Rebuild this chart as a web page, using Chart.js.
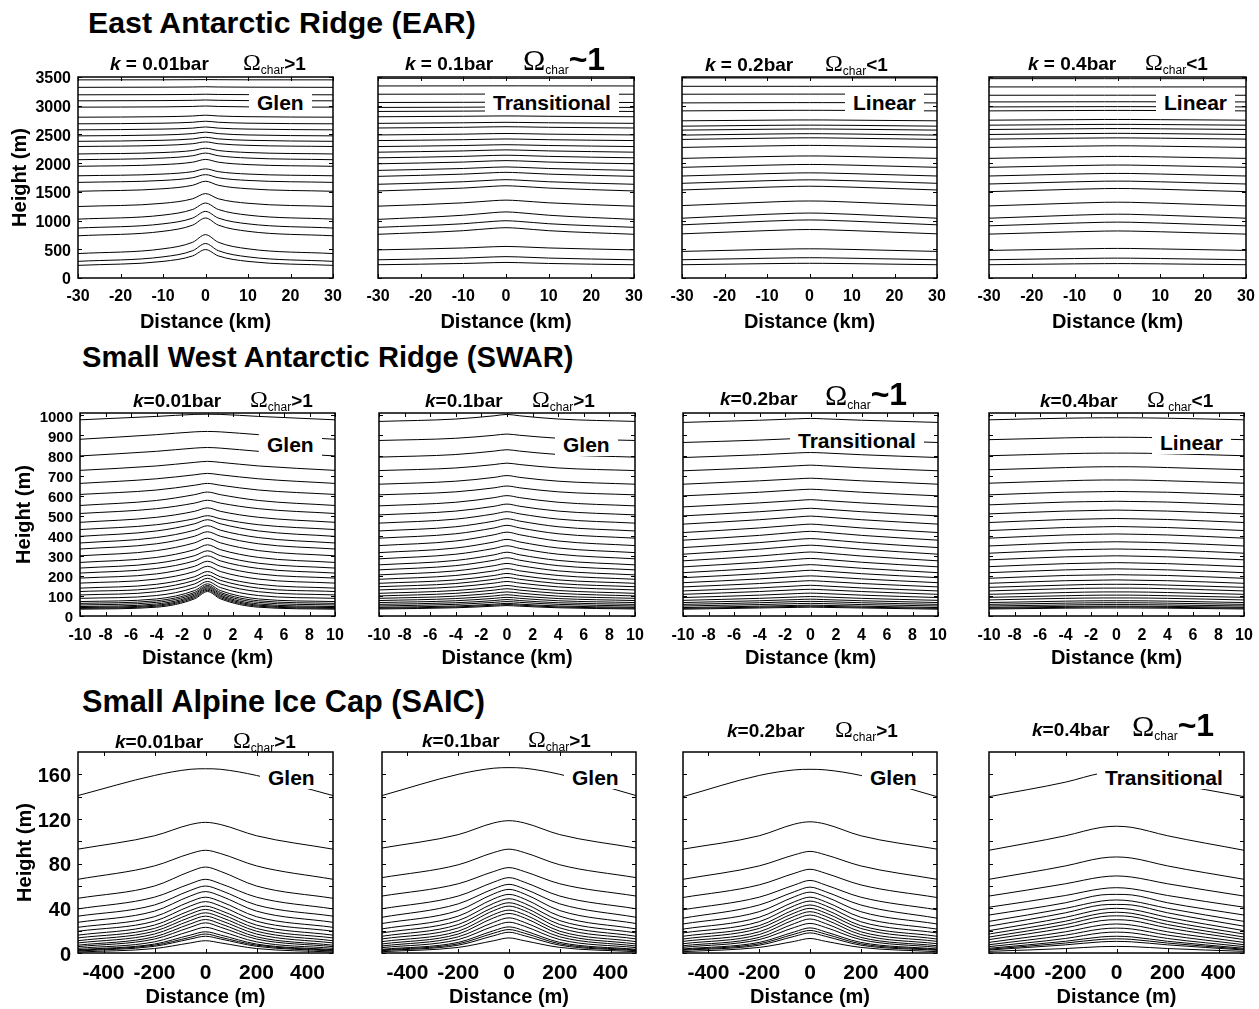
<!DOCTYPE html>
<html>
<head>
<meta charset="utf-8">
<script src="https://cdn.jsdelivr.net/npm/chart.js@4.4.1/dist/chart.umd.min.js"></script>
<style>
  body { margin: 0; background: #fff; width: 1259px; height: 1009px; position: relative; overflow: hidden;
         font-family: "Liberation Sans", Arial, sans-serif; color: #000; }
  .head { position: absolute; font-weight: bold; line-height: 1; white-space: nowrap; }
  .pt { position: absolute; white-space: nowrap; line-height: 1; font-weight: bold; font-size: 19px; z-index: 2; }
  .pt .kp { display: inline-block; }
  .pt .om { font-family: "Liberation Serif", "DejaVu Serif", serif; font-weight: normal; font-size: 24px; }
  .pt .om.big { font-size: 30px; }
  .pt sub { font-size: 12px; font-weight: normal; vertical-align: -4px; line-height: 0; }
  .pt .rel.big { font-size: 32px; }
  .lab { position: absolute; background: #fff; font-weight: bold; font-size: 21px; line-height: 1;
         padding: 1px 8px; white-space: nowrap; z-index: 2; }
  canvas { position: absolute; }
</style>
</head>
<body>
<div class="head" style="left:88px;top:8px;font-size:30.3px">East Antarctic Ridge (EAR)</div>
<div class="head" style="left:82px;top:343px;font-size:29.1px">Small West Antarctic Ridge (SWAR)</div>
<div class="head" style="left:82px;top:687px;font-size:30.7px">Small Alpine Ice Cap (SAIC)</div>
<script>
// sample positions along each profile (edge, shoulder, near, crest, mirrored)
const earX = [-30, -10, -3, 0, 3, 10, 30];
const swarX = [-10, -4, -1, 0, 1, 4, 10];
const saicX = [-500, -200, -60, 0, 60, 200, 500];

const earXTicks = [-30, -20, -10, 0, 10, 20, 30];
const earYTicks = [0, 500, 1000, 1500, 2000, 2500, 3000, 3500];
const swarXTicks = [-10, -8, -6, -4, -2, 0, 2, 4, 6, 8, 10];
const swarYTicks = [0, 100, 200, 300, 400, 500, 600, 700, 800, 900, 1000];
const saicXTicks = [-400, -200, 0, 200, 400];
const saicYTicks = [0, 20, 40, 60, 80, 100, 120, 140, 160];

// each isochrone: [height at edge, at shoulder, near crest, at crest]
const earGlen = [
  [3450, 3451, 3453, 3455], [3320, 3323, 3326, 3330], [3190, 3193, 3196, 3200], [3085, 3089, 3094, 3100],
  [2975, 2980, 2987, 2995], [2800, 2809, 2821, 2835], [2685, 2696, 2712, 2730], [2580, 2593, 2610, 2630],
  [2475, 2491, 2514, 2540], [2380, 2398, 2422, 2450], [2290, 2310, 2338, 2370], [2160, 2185, 2220, 2260],
  [2060, 2089, 2129, 2175], [1945, 1975, 2017, 2065], [1780, 1810, 1852, 1900], [1665, 1699, 1746, 1800],
  [1510, 1554, 1615, 1685], [1245, 1301, 1380, 1470], [1025, 1095, 1194, 1305], [870, 943, 1044, 1160],
  [735, 813, 921, 1045], [425, 508, 623, 755], [290, 368, 476, 600], [220, 289, 385, 495]
];
const earTrans = [
  [3477, 3477, 3477, 3477], [3344, 3345, 3346, 3346], [3200, 3202, 3203, 3203], [3056, 3059, 3061, 3061],
  [2970, 2974, 2977, 2978], [2900, 2906, 2909, 2910], [2808, 2816, 2821, 2822], [2693, 2703, 2709, 2711],
  [2612, 2624, 2632, 2634], [2491, 2505, 2514, 2516], [2393, 2408, 2418, 2421], [2289, 2307, 2318, 2321],
  [2191, 2213, 2227, 2231], [2093, 2118, 2134, 2138], [1989, 2019, 2039, 2044], [1874, 1907, 1928, 1934],
  [1770, 1809, 1833, 1840], [1632, 1676, 1704, 1712], [1516, 1566, 1597, 1606], [1251, 1309, 1346, 1356],
  [1021, 1093, 1138, 1151], [882, 945, 986, 997], [761, 824, 865, 876], [490, 523, 544, 550],
  [317, 347, 367, 372], [231, 253, 267, 271]
];
const earLin2 = [
  [3483, 3483, 3483, 3483], [3338, 3338, 3338, 3338], [3200, 3202, 3202, 3202], [3049, 3053, 3054, 3054],
  [2910, 2918, 2920, 2920], [2737, 2748, 2752, 2752], [2644, 2658, 2661, 2662], [2575, 2590, 2594, 2595],
  [2488, 2507, 2512, 2513], [2413, 2434, 2440, 2441], [2274, 2300, 2308, 2309], [2083, 2115, 2124, 2125],
  [1927, 1965, 1976, 1977], [1776, 1817, 1829, 1831], [1649, 1694, 1707, 1709], [1533, 1582, 1596, 1598],
  [1261, 1321, 1339, 1341], [1041, 1109, 1128, 1131], [926, 990, 1008, 1011], [769, 825, 842, 844],
  [463, 497, 507, 508], [318, 344, 352, 353], [231, 250, 255, 256]
];
const earLin4 = [
  [3471, 3471, 3471, 3471], [3327, 3327, 3327, 3327], [3182, 3183, 3183, 3183], [3066, 3068, 3069, 3069],
  [2979, 2983, 2984, 2984], [2910, 2916, 2918, 2918], [2748, 2757, 2760, 2760], [2661, 2672, 2675, 2675],
  [2586, 2598, 2602, 2602], [2499, 2514, 2518, 2519], [2418, 2435, 2439, 2440], [2274, 2295, 2301, 2302],
  [2083, 2109, 2116, 2117], [1927, 1957, 1966, 1967], [1776, 1810, 1820, 1821], [1637, 1675, 1686, 1687],
  [1504, 1545, 1557, 1559], [1255, 1304, 1318, 1320], [1041, 1094, 1109, 1111], [908, 957, 971, 973],
  [764, 805, 817, 819], [480, 506, 514, 515], [318, 339, 345, 346], [231, 246, 250, 251]
];

const swarGlen1 = [
  [978, 995, 1005, 1006], [881, 904, 918, 920], [798, 821, 837, 840], [726, 748, 766, 771],
  [661, 684, 704, 711], [606, 628, 652, 661], [551, 576, 605, 618], [511, 535, 563, 577],
  [467, 492, 522, 539], [431, 455, 485, 500], [397, 424, 460, 480], [364, 391, 428, 450],
  [334, 360, 398, 420], [300, 326, 365, 388], [267, 292, 331, 355], [239, 263, 301, 325],
  [214, 237, 275, 300], [189, 210, 248, 273], [164, 184, 222, 248], [139, 158, 196, 222],
  [122, 139, 178, 204], [105, 121, 160, 188], [88, 102, 142, 172], [72, 85, 127, 160],
  [63, 76, 118, 152], [55, 68, 111, 146], [47, 60, 104, 140], [42, 54, 98, 134],
  [38, 49, 92, 128], [34, 44, 86, 122]
];
const swarGlen2 = [
  [970, 982, 998, 1005], [875, 886, 901, 907], [792, 805, 822, 829], [725, 738, 755, 762],
  [657, 672, 691, 700], [604, 619, 639, 648], [549, 567, 590, 600], [504, 523, 547, 558],
  [463, 483, 509, 520], [424, 445, 473, 485], [388, 410, 439, 452], [351, 374, 405, 418],
  [316, 339, 369, 382], [285, 308, 337, 350], [255, 277, 305, 318], [230, 251, 278, 290],
  [205, 225, 251, 262], [183, 202, 225, 236], [163, 180, 202, 212], [146, 162, 183, 192],
  [130, 145, 164, 172], [113, 127, 144, 152], [100, 113, 129, 136], [88, 99, 114, 120],
  [77, 87, 100, 106], [67, 76, 88, 93], [58, 66, 77, 82], [50, 58, 68, 72], [43, 50, 59, 63],
  [39, 45, 54, 57], [35, 41, 49, 52]
];
const swarTrans = [
  [965, 976, 983, 985], [865, 877, 885, 887], [790, 804, 813, 815], [724, 739, 749, 752],
  [657, 674, 684, 687], [599, 617, 629, 632], [544, 564, 576, 580], [499, 520, 533, 537],
  [458, 480, 494, 498], [416, 439, 454, 458], [378, 402, 418, 422], [341, 366, 382, 386],
  [308, 333, 349, 353], [275, 299, 315, 319], [245, 268, 283, 287], [216, 238, 252, 256],
  [191, 211, 224, 228], [166, 185, 197, 200], [145, 162, 173, 176], [125, 140, 150, 153],
  [108, 122, 131, 133], [92, 104, 112, 114], [78, 88, 95, 97], [67, 76, 82, 84],
  [58, 66, 72, 73], [50, 57, 62, 63], [42, 49, 53, 54], [38, 44, 48, 49], [34, 40, 43, 44]
];
const swarLin = [
  [978, 986, 988, 988], [879, 888, 891, 891], [799, 809, 812, 812], [729, 740, 744, 744],
  [662, 674, 678, 678], [604, 617, 620, 621], [554, 568, 571, 572], [509, 523, 527, 528],
  [466, 481, 485, 486], [426, 441, 445, 446], [388, 404, 408, 409], [349, 365, 369, 370],
  [313, 329, 333, 334], [280, 295, 299, 300], [246, 261, 265, 266], [216, 230, 234, 235],
  [188, 202, 205, 206], [163, 176, 179, 180], [143, 154, 158, 158], [125, 136, 139, 139],
  [108, 117, 120, 120], [93, 101, 104, 104], [80, 88, 90, 90], [67, 74, 76, 76],
  [58, 64, 66, 66], [50, 55, 57, 57], [43, 48, 49, 49], [39, 43, 45, 45], [35, 39, 40, 40]
];

const saicGlen1 = [
  [141, 159, 164.5, 165], [93, 105, 115, 117], [66, 78, 89, 92], [49, 60, 73, 77],
  [39.5, 50, 62, 66], [33, 43, 56, 60], [27.5, 37.5, 51, 55], [23, 32.5, 46, 50],
  [19.5, 28.5, 42, 46], [16, 25, 38, 42], [13.5, 22, 35, 39], [11, 19.5, 32, 36],
  [9, 17, 29, 33], [7, 14.5, 26, 30], [5.7, 12.5, 23, 27], [4.2, 10, 19.5, 23],
  [3, 8, 16, 19], [2.4, 7, 14, 17], [1.8, 6, 12.5, 15], [0.9, 4, 9, 11]
];
const saicGlen2 = [
  [141, 160, 165.5, 166], [94, 106, 116.5, 118.5], [67.5, 79, 90, 93], [51, 62, 73, 76.5],
  [39.6, 51, 63.5, 67.5], [32, 44, 57.5, 61.5], [26.4, 38, 53, 57], [21.6, 33, 48.5, 52.5],
  [18, 29, 44.5, 48.6], [15, 25.5, 41, 45], [12.6, 22.5, 38, 42], [10.2, 19.5, 34.5, 38.4],
  [8.1, 17, 31.5, 35.4], [6.3, 14.5, 27.5, 31.5], [4.8, 12, 24, 27.6], [3.3, 9.5, 20, 23.4],
  [2.7, 8.2, 17.8, 21], [2.1, 7, 15.5, 18.6], [1.2, 5, 11, 13.5]
];
const saicGlen3 = [
  [140, 159, 164, 164.5], [93, 105, 115.5, 117.5], [66, 78, 88, 91], [49.7, 61, 71.5, 75],
  [38.7, 50, 61, 65], [31.2, 43, 55, 59], [26, 37, 50.5, 54.5], [21.4, 32, 46, 50],
  [18, 28, 42.5, 46.5], [15, 24.5, 39, 43], [12.5, 22, 36, 40], [10.4, 19, 33, 37],
  [8.3, 16.5, 30, 34], [6.5, 14, 26.5, 30.5], [5.1, 12, 23, 26.5], [3.6, 9.5, 19, 22.5],
  [3, 8.2, 17, 20.2], [2.4, 7, 15, 18], [1.2, 5, 10.5, 13]
];
const saicTrans = [
  [140, 153, 161, 162], [92, 105, 112.5, 113.5], [66, 78, 85, 86], [51, 62, 68, 69],
  [41, 51.5, 57.5, 58.5], [34, 45, 52, 52.5], [28.3, 40, 46.5, 47.5], [24, 36, 43, 43.5],
  [20, 32, 39, 40], [17, 28.5, 35.5, 36.5], [14.3, 25.5, 32.5, 33.3], [12, 22.5, 29, 29.8],
  [9.5, 19, 25, 26], [7.4, 16, 21.5, 22.3], [5.7, 13, 18, 18.7], [4.2, 10.5, 14.4, 15],
  [3.4, 8.9, 12.2, 12.7], [2.7, 7.3, 10, 10.4], [1.5, 4, 5.7, 5.9]
];

const kLabels = [
  [' = 0.01bar', ' = 0.1bar', ' = 0.2bar', ' = 0.4bar'],
  ['=0.01bar', '=0.1bar', '=0.2bar', '=0.4bar'],
  ['=0.01bar', '=0.1bar', '=0.2bar', '=0.4bar']
];
const omegaLabels = [
  ['>1', '~1', '<1', '<1'],
  ['>1', '>1', '~1', '<1'],
  ['>1', '>1', '>1', '~1']
];
const regimeLabels = [
  ['Glen', 'Transitional', 'Linear', 'Linear'],
  ['Glen', 'Glen', 'Transitional', 'Linear'],
  ['Glen', 'Glen', 'Glen', 'Transitional']
];

// layout
const rows = [
  { T: 77, B: 278, L: [78, 378, 682, 989], R: [333, 634, 937, 1246], xs: earX, xt: earXTicks, yt: earYTicks,
    xMin: -30, xMax: 30, yMax: 3500, xTick: 16, yTick: 16, tickPad: 9, yTitlePad: 8, xTitlePad: 2, xTitle: 'Distance (km)',
    panels: [earGlen, earTrans, earLin2, earLin4],
    titleX: [110, 405, 705, 1028], omegaX: [243, 523, 825, 1145], base: [70, 70, 71, 70],
    labX: [257, 493, 853, 1164], labBase: [110, 110, 110, 110] },
  { T: 413, B: 616, L: [80, 379, 683, 989], R: [335, 635, 938, 1244], xs: swarX, xt: swarXTicks, yt: swarYTicks,
    xMin: -10, xMax: 10, yMax: 1012, xTick: 16, yTick: 15, tickPad: 10, yTitlePad: 12, xTitlePad: 4, xTitle: 'Distance (km)',
    panels: [swarGlen1, swarGlen2, swarTrans, swarLin],
    titleX: [133, 425, 720, 1040], omegaX: [250, 532, 825, 1147], base: [407, 407, 405, 407],
    labX: [267, 563, 798, 1160], labBase: [452, 452, 448, 450] },
  { T: 752, B: 953, L: [78, 382, 683, 989], R: [333, 636, 937, 1244], xs: saicX, xt: saicXTicks, yt: saicYTicks,
    xMin: -500, xMax: 500, yMax: 180, xTick: 21, yTick: 20, tickPad: 8, yTitlePad: 13, xTitlePad: 2, xTitle: 'Distance (m)',
    panels: [saicGlen1, saicGlen2, saicGlen3, saicTrans],
    titleX: [115, 422, 727, 1032], omegaX: [233, 528, 835, 1132], base: [748, 747, 737, 736],
    labX: [268, 572, 870, 1105], labBase: [785, 785, 785, 785] }
];

const mirror = [0, 1, 2, 3, 2, 1, 0];

const framePlugin = {
  id: 'frame',
  afterDraw(chart) {
    const { ctx, chartArea: a, scales: { x, y } } = chart;
    ctx.save();
    ctx.strokeStyle = '#000';
    ctx.lineWidth = 1;
    ctx.beginPath();
    x.ticks.forEach(t => {
      const px = Math.round(x.getPixelForValue(t.value)) + 0.5;
      ctx.moveTo(px, a.bottom); ctx.lineTo(px, a.bottom - 4);
      ctx.moveTo(px, a.top); ctx.lineTo(px, a.top + 4);
    });
    y.ticks.forEach(t => {
      const py = Math.round(y.getPixelForValue(t.value)) + 0.5;
      ctx.moveTo(a.left, py); ctx.lineTo(a.left + 4, py);
      ctx.moveTo(a.right, py); ctx.lineTo(a.right - 4, py);
    });
    ctx.stroke();
    ctx.lineWidth = 1.5;
    ctx.strokeRect(a.left, a.top, a.right - a.left, a.bottom - a.top);
    ctx.restore();
  }
};

rows.forEach((row, r) => {
  row.panels.forEach((lines, c) => {
    const L = row.L[c], R = row.R[c];
    const yW = c === 0 ? L : 20;
    const xH = 58;
    const canvas = document.createElement('canvas');
    canvas.width = yW + (R - L) + 16;
    canvas.height = 10 + (row.B - row.T) + xH;
    canvas.style.left = (L - yW) + 'px';
    canvas.style.top = (row.T - 10) + 'px';
    document.body.appendChild(canvas);

    new Chart(canvas, {
      type: 'line',
      data: {
        datasets: lines.map(l => ({
          data: row.xs.map((x, i) => ({ x: x, y: l[mirror[i]] })),
          borderColor: '#000',
          borderWidth: 1,
          pointRadius: 0,
          fill: false,
          cubicInterpolationMode: 'monotone'
        }))
      },
      options: {
        responsive: false,
        animation: false,
        events: [],
        layout: { padding: { top: 10, right: 16, left: 0, bottom: 0 } },
        plugins: { legend: { display: false }, tooltip: { enabled: false } },
        scales: {
          x: {
            type: 'linear', min: row.xMin, max: row.xMax,
            grid: { display: false, drawTicks: false },
            border: { display: false },
            ticks: { autoSkip: false, maxRotation: 0, padding: row.tickPad, color: '#000',
                     font: { family: 'Liberation Sans', weight: 'bold', size: row.xTick } },
            title: { display: true, text: row.xTitle, color: '#000',
                     font: { family: 'Liberation Sans', weight: 'bold', size: 20 },
                     padding: { top: 0, bottom: row.xTitlePad } },
            afterBuildTicks: s => { s.ticks = row.xt.map(v => ({ value: v })); },
            afterFit: s => { s.height = xH; s.paddingLeft = 0; s.paddingRight = 0; }
          },
          y: {
            type: 'linear', min: 0, max: row.yMax,
            grid: { display: false, drawTicks: false },
            border: { display: false },
            ticks: {
              display: c === 0, padding: 7, color: '#000', autoSkip: false, labelOffset: 2,
              font: { family: 'Liberation Sans', weight: 'bold', size: row.yTick },
              callback: v => (r === 2 && v % 40 !== 0) ? '' : v
            },
            title: { display: c === 0, text: 'Height (m)', color: '#000',
                     font: { family: 'Liberation Sans', weight: 'bold', size: 20 },
                     padding: { top: row.yTitlePad, bottom: 0 } },
            afterBuildTicks: s => { s.ticks = row.yt.map(v => ({ value: v })); },
            afterFit: s => { s.width = yW; s.paddingTop = 0; s.paddingBottom = 0; }
          }
        }
      },
      plugins: [framePlugin]
    });

    // panel title
    const big = omegaLabels[r][c] === '~1';
    const t = document.createElement('div');
    t.className = 'pt';
    t.style.left = row.titleX[c] + 'px';
    t.style.top = (row.base[c] - (big ? 27 : 20)) + 'px';
    const sp = (r === 1 && c === 3) ? ' ' : '';
    t.innerHTML = '<span class="kp" style="width:' + (row.omegaX[c] - row.titleX[c]) + 'px"><i>k</i>' +
      kLabels[r][c] + '</span><span class="om' + (big ? ' big' : '') + '">\u03A9</span><sub>' + sp + 'char</sub>' +
      '<span class="rel' + (big ? ' big' : '') + '">' + omegaLabels[r][c].replace('<', '&lt;').replace('>', '&gt;') + '</span>';
    document.body.appendChild(t);

    // regime label
    const lab = document.createElement('div');
    lab.className = 'lab';
    lab.textContent = regimeLabels[r][c];
    lab.style.left = (row.labX[c] - 8) + 'px';
    lab.style.top = (row.labBase[c] - 19) + 'px';
    document.body.appendChild(lab);
  });
});
</script>
</body>
</html>
